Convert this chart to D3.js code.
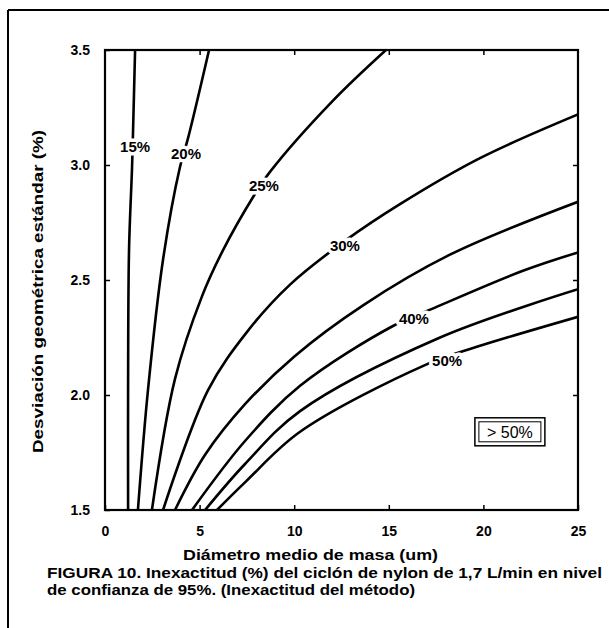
<!DOCTYPE html>
<html lang="es">
<head>
<meta charset="UTF-8">
<title>Inexactitud del ciclón</title>
<style>
    body { margin: 0; background: #fff; }
    svg text { font-family: "Liberation Sans", Arial, sans-serif; fill: #000; }
    .axis text { font-size: 14px; font-weight: bold; }
    .axis line { stroke: #000; stroke-width: 1.5px; }
    .contour { fill: none; stroke: #000; stroke-width: 2.6px; }
    .clabel { font-size: 15px; font-weight: bold; stroke: #fff; stroke-width: 7px; paint-order: stroke; stroke-linejoin: round; }
</style>
</head>
<body>
<div id="chart"></div>
<script src="https://cdn.jsdelivr.net/npm/d3@7"></script>
<script>
    var width = 609, height = 628;

    // tick labels
    var xTicks = [0, 5, 10, 15, 20, 25];
    var yTicks = [1.5, 2.0, 2.5, 3.0, 3.5];

    // contour lines, [diametro, desviacion] from bottom to top
    var levels = ["15%", "20%", "25%", "30%", "35%", "40%", "45%", "50%"];
    var c15 = [[1.22, 1.5], [1.22, 2.02], [1.27, 2.63], [1.43, 2.99], [1.48, 3.14], [1.59, 3.5]];
    var c20 = [[1.74, 1.5], [2.27, 2.02], [3.07, 2.59], [3.96, 2.99], [4.4, 3.12], [5.5, 3.5]];
    var c25 = [[2.48, 1.5], [3.7, 2.07], [5.13, 2.43], [6.24, 2.63], [7.82, 2.86], [8.72, 2.97], [12.05, 3.28], [14.85, 3.5]];
    var c30 = [[3.07, 1.5], [5.44, 2.02], [7.56, 2.28], [9.78, 2.48], [12.68, 2.67], [15.59, 2.83], [19.82, 3.03], [25.0, 3.22]];
    var c35 = [[3.7, 1.5], [5.29, 1.74], [7.4, 1.96], [10.04, 2.17], [13.64, 2.39], [18.23, 2.61], [25.0, 2.84]];
    var c40 = [[4.6, 1.5], [7.4, 1.8], [10.31, 2.04], [15.22, 2.3], [17.44, 2.38], [22.09, 2.54], [25.0, 2.62]];
    var c45 = [[5.29, 1.5], [7.4, 1.7], [10.31, 1.93], [17.71, 2.25], [25.0, 2.46]];
    var c50 = [[5.92, 1.5], [7.4, 1.62], [10.31, 1.84], [16.91, 2.13], [19.29, 2.2], [25.0, 2.34]];
    var contours = [c15, c20, c25, c30, c35, c40, c45, c50];

    // where the labels sit on their lines
    var labelText = ["15%", "20%", "25%", "30%", "40%", "50%"];
    var labelPos = [[1.59, 3.08], [4.28, 3.05], [8.4, 2.91], [12.68, 2.65], [16.33, 2.33], [18.08, 2.15]];
    var regionText = "> 50%";
    var regionPos = [21.4, 1.84];

    var svg = d3.select("#chart").append("svg")
        .attr("width", width)
        .attr("height", height);

    // outer frame of the scanned figure
    svg.append("line").attr("x1", 8).attr("y1", 10).attr("x2", 8).attr("y2", height)
        .attr("stroke", "#000").attr("stroke-width", 2);
    svg.append("line").attr("x1", 8).attr("y1", 10).attr("x2", width).attr("y2", 10)
        .attr("stroke", "#000").attr("stroke-width", 2);

    var pLeft = 105, pRight = 578, pTop = 50, pBottom = 510;

    var x = d3.scaleLinear().domain([0, 25]).range([pLeft, pRight]);
    var y = d3.scaleLinear().domain([1.5, 3.5]).range([pBottom, pTop]);

    svg.append("clipPath").attr("id", "plotclip")
        .append("rect")
        .attr("x", pLeft).attr("y", pTop)
        .attr("width", pRight - pLeft).attr("height", pBottom - pTop);

    // contour lines
    var line = d3.line()
        .x(function(d) { return x(d[0]); })
        .y(function(d) { return y(d[1]); })
        .curve(d3.curveCatmullRom.alpha(0.5));

    svg.append("g")
        .attr("clip-path", "url(#plotclip)")
        .selectAll("path")
        .data(contours)
        .enter().append("path")
        .attr("class", "contour")
        .attr("d", line);

    // axes, ticks pointing inwards
    svg.append("g")
        .attr("class", "axis")
        .attr("transform", "translate(0," + pBottom + ")")
        .call(d3.axisBottom(x).tickValues(xTicks).tickSize(-5).tickPadding(16))
        .call(function(g) { g.select(".domain").remove(); });

    svg.append("g")
        .attr("class", "axis")
        .attr("transform", "translate(" + pLeft + ",0)")
        .call(d3.axisLeft(y).tickValues(yTicks).tickFormat(d3.format(".1f")).tickSize(-5).tickPadding(15))
        .call(function(g) { g.select(".domain").remove(); });

    svg.append("g")
        .attr("class", "axis")
        .attr("transform", "translate(0," + pTop + ")")
        .call(d3.axisTop(x).tickValues(xTicks.slice(1, -1)).tickSize(-5).tickFormat(""))
        .call(function(g) { g.select(".domain").remove(); });

    svg.append("g")
        .attr("class", "axis")
        .attr("transform", "translate(" + pRight + ",0)")
        .call(d3.axisRight(y).tickValues(yTicks.slice(1, -1)).tickSize(-5).tickFormat(""))
        .call(function(g) { g.select(".domain").remove(); });

    svg.append("rect")
        .attr("x", pLeft).attr("y", pTop)
        .attr("width", pRight - pLeft).attr("height", pBottom - pTop)
        .attr("fill", "none").attr("stroke", "#000").attr("stroke-width", 2.2);

    // contour labels with white halo to break the lines
    svg.selectAll(".clabel")
        .data(labelText)
        .enter().append("text")
        .attr("class", "clabel")
        .attr("x", function(d, i) { return x(labelPos[i][0]); })
        .attr("y", function(d, i) { return y(labelPos[i][1]); })
        .attr("dy", "0.35em")
        .attr("text-anchor", "middle")
        .text(function(d) { return d; });

    // "> 50%" box
    var bx = x(regionPos[0]), by = y(regionPos[1]);
    svg.append("rect")
        .attr("x", bx - 35).attr("y", by - 14).attr("width", 70).attr("height", 28)
        .attr("fill", "#fff").attr("stroke", "#000").attr("stroke-width", 1.5);
    svg.append("rect")
        .attr("x", bx - 31).attr("y", by - 10).attr("width", 62).attr("height", 20)
        .attr("fill", "none").attr("stroke", "#000").attr("stroke-width", 1);
    svg.append("text")
        .attr("x", bx).attr("y", by)
        .attr("dy", "0.36em")
        .attr("text-anchor", "middle")
        .style("font-size", "16px")
        .text(regionText);

    // axis titles
    svg.append("text")
        .attr("x", 183).attr("y", 560)
        .attr("textLength", 255).attr("lengthAdjust", "spacingAndGlyphs")
        .style("font-size", "15px").style("font-weight", "bold")
        .text("Diámetro medio de masa (um)");

    svg.append("text")
        .attr("transform", "translate(43,453) rotate(-90)")
        .attr("textLength", 323).attr("lengthAdjust", "spacingAndGlyphs")
        .style("font-size", "15px").style("font-weight", "bold")
        .text("Desviación geométrica estándar  (%)");

    // caption
    svg.append("text")
        .attr("x", 47).attr("y", 578)
        .attr("textLength", 555).attr("lengthAdjust", "spacingAndGlyphs")
        .style("font-size", "14px").style("font-weight", "bold")
        .text("FIGURA 10. Inexactitud (%) del ciclón de nylon de 1,7 L/min en nivel");
    svg.append("text")
        .attr("x", 47).attr("y", 595)
        .attr("textLength", 368).attr("lengthAdjust", "spacingAndGlyphs")
        .style("font-size", "14px").style("font-weight", "bold")
        .text("de confianza de 95%. (Inexactitud del método)");
</script>
</body>
</html>
